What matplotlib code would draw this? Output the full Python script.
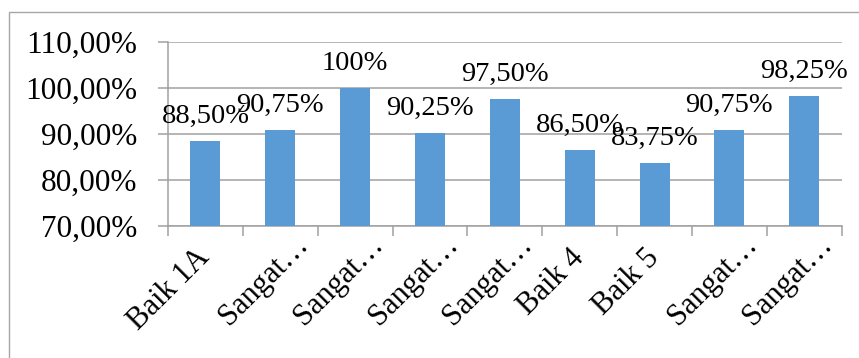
import matplotlib
matplotlib.use("Agg")
import matplotlib.pyplot as plt
from matplotlib.patches import Rectangle
from matplotlib.ticker import FuncFormatter
import matplotlib.transforms as mtransforms

categories = ["Baik 1A", "Sangat…", "Sangat…", "Sangat…", "Sangat…",
              "Baik 4", "Baik 5", "Sangat…", "Sangat…"]
values = [88.50, 90.75, 100.0, 90.25, 97.50, 86.50, 83.75, 90.75, 98.25]
value_labels = ["88,50%", "90,75%", "100%", "90,25%", "97,50%",
                "86,50%", "83,75%", "90,75%", "98,25%"]
y_ticks = [70, 80, 90, 100, 110]

plt.rcParams['font.family'] = ['Liberation Serif', 'DejaVu Serif']

W, H = 859, 358
fig = plt.figure(figsize=(W / 100, H / 100), dpi=100)

# outer chart border (cropped on right/bottom like the reference)
fig.patches.append(Rectangle((8.5 / W, -0.2), 2.0, (H - 11.5) / H + 0.2,
                             transform=fig.transFigure, fill=False,
                             edgecolor='#A6A6A6', linewidth=1.0))

ax = fig.add_axes([168 / W, (H - 225.7) / H, (841.7 - 168) / W, (225.7 - 42) / H])

bar_color = '#5B9BD5'
grid_color = '#A0A0A0'
x = list(range(len(categories)))
ax.bar(x, [v - 70 for v in values], bottom=70, width=0.4, color=bar_color, zorder=3)

ax.set_xlim(-0.5, len(categories) - 0.5)
ax.set_ylim(70, 110)
ax.set_yticks(y_ticks)
ax.yaxis.set_major_formatter(FuncFormatter(lambda v, p: f"{v:.2f}".replace('.', ',') + "%"))
ax.tick_params(axis='y', length=7, width=1.1, color=grid_color, pad=15, labelsize=22.5)
ax.grid(axis='y', color=grid_color, linewidth=1.1, zorder=0)

for s in ['top', 'right']:
    ax.spines[s].set_visible(False)
for s in ['left', 'bottom']:
    ax.spines[s].set_color(grid_color)
    ax.spines[s].set_linewidth(1.1)

# category boundary ticks
ax.set_xticks([i - 0.5 for i in range(len(categories) + 1)])
ax.set_xticklabels([])
ax.tick_params(axis='x', length=7, width=1.1, color=grid_color)

# rotated category labels
for i, lab in enumerate(categories):
    if lab.endswith("…"):
        dx, dy = 29, -20
    else:
        dx, dy = 5, -33
    tr = ax.get_xaxis_transform() + mtransforms.ScaledTranslation(dx / 100, dy / 100, fig.dpi_scale_trans)
    ax.text(i, 0, lab, transform=tr, rotation=45, rotation_mode='anchor',
            ha='right', va='baseline', fontsize=22)

# data labels
for i, (v, lab) in enumerate(zip(values, value_labels)):
    ax.annotate(lab, (i, v), xytext=(0, 13), textcoords='offset points',
                ha='center', va='baseline', fontsize=20.5, zorder=5)

fig.savefig("out.png", dpi=100)
